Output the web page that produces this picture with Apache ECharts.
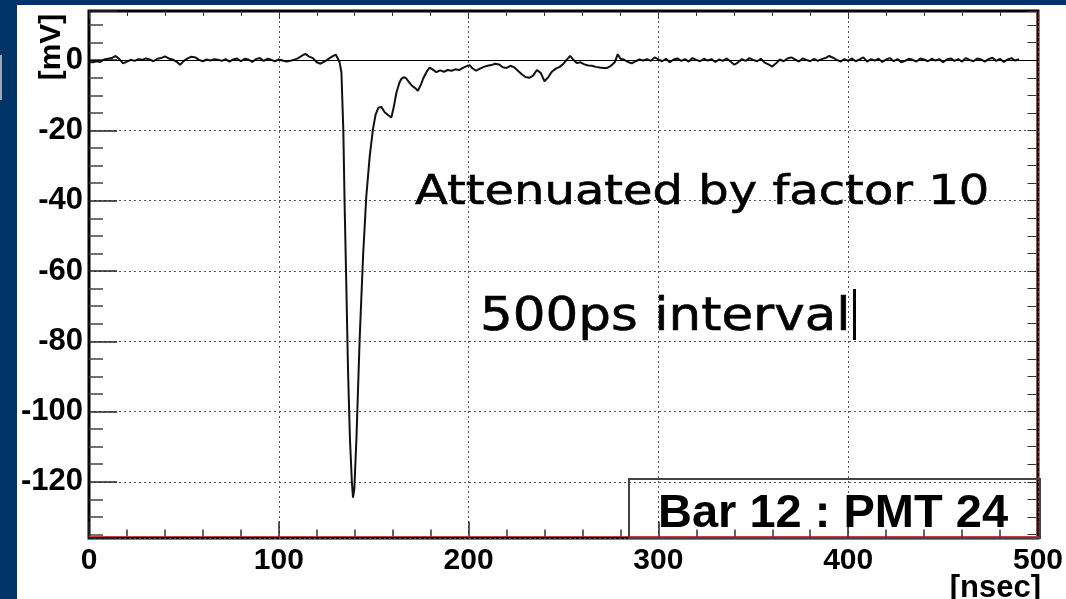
<!DOCTYPE html>
<html><head><meta charset="utf-8">
<script src="https://cdn.jsdelivr.net/npm/echarts@6/dist/echarts.min.js"></script>
<style>
html,body{margin:0;padding:0;width:1066px;height:599px;background:#003366;overflow:hidden}
#paper{position:absolute;left:17px;top:5px;width:1049px;height:594px;background:#fff}
#edge{position:absolute;left:0;top:55px;width:2px;height:45px;background:#9aa8ba}
#chart{position:absolute;left:0;top:0;width:1066px;height:599px}
</style></head><body>
<div id="paper"></div><div id="edge"></div><div id="chart"></div>
<script>
// ---- data ----
const timeNs = [
  0,2,4,6,8,10,12,14,16,18,20,22,24,26,28,30,32,34,36,38,40,42,44,46,48,50,52,54,56,58,60,
  62,64,66,68,70,72,74,76,78,80,82,84,86,88,90,92,94,96,98,100,102,104,106,108,110,112,114,116,118,120,
  122,124,126,128,130,131,132,133,134,134.7,135.5,136.5,137.5,138.5,139.1,139.8,140.9,142.6,144.4,146.1,147.9,149.6,
  151,152.5,154,155.8,157.5,159.3,160.5,162,163.5,164.6,166,167.2,168.5,170,171.5,173.3,175,176,178,179.5,
  181,183,185,187,189,191,193,195,197,199,200.5,202,204,206,208,210,212,214,216,218,220,222,224,226,228,230,
  232,234,236,238,240,242,244,246,248,250,252,253.5,255,257,259,261,263,265,267,269,271,273,275,277,278.6,280,
  282,284,286,288,290,292,294,296,298,300,302,304,306,308,310,312,314,316,318,320,322,324,326,328,330,332,334,
  336,338,340,342,344,346,348,350,352,354,356,358,360,362,364,366,368,370,372,374,376,378,380,382,384,386,388,
  390,392,394,396,398,400,402,404,406,408,410,412,414,416,418,420,422,424,426,428,430,432,434,436,438,440,442,
  444,446,448,450,452,454,456,458,460,462,464,466,468,470,472,474,476,478,480,482,484,486,488,490
];
const signalMv = [
  -0.5,-0.6,-0.3,-0.5,0.2,0.4,0.6,1.2,0.3,-0.9,-0.4,0.1,-0.2,0.3,0.1,0.5,0.2,-0.3,0.4,0.6,1.1,0.5,0.2,-0.4,-1.3,-0.2,0.5,1.0,0.8,0.1,-0.3,
  0.2,-0.1,0.3,0.1,-0.2,0.3,-0.4,0.2,0.5,-0.3,0.4,0.2,-0.5,0.3,0.6,-0.2,0.4,0.1,-0.3,0.2,-0.1,-0.4,-0.2,0.1,0.5,1.2,1.8,1.0,0.6,-0.6,
  -1.0,-0.4,0.3,1.0,1.6,1.2,-0.5,-3.5,-20,-41.6,-62,-88.8,-108,-120,-124.5,-122,-107.8,-79.4,-55.8,-38.8,-27.4,-19.7,
  -15.5,-13.5,-13.3,-14.8,-15.6,-16.3,-13.5,-9.2,-6.5,-5.3,-4.8,-5.2,-6.2,-7.2,-7.8,-8.7,-6.8,-5.3,-3.2,-2.1,
  -2.6,-3.4,-2.9,-3.3,-2.8,-3.0,-2.6,-2.8,-2.2,-1.7,-1.4,-2.3,-3.0,-2.4,-1.9,-1.6,-1.4,-1.0,-1.2,-2.0,-2.2,-1.6,-2.0,-3.0,-4.0,-4.8,
  -5.0,-4.4,-2.8,-3.6,-6.0,-4.8,-3.2,-2.4,-1.9,-1.0,0.3,1.2,0.2,-0.8,-0.6,-1.2,-1.5,-1.6,-1.9,-2.1,-2.2,-2.2,-1.6,-0.6,1.7,0.4,
  0.1,-0.5,-0.9,-0.3,0.2,-0.1,0.3,-0.2,0.8,0.2,-0.3,0.4,-0.6,0.2,0.5,-0.2,0.3,-0.4,0.6,0.1,-0.3,0.4,-0.1,0.3,-0.5,0.2,-0.2,
  0.5,-0.4,-1.3,-0.6,0.3,-0.2,0.6,0.1,-0.3,0.4,-0.7,-1.2,-1.8,-0.9,0.2,-0.3,0.5,0.8,0.2,-0.4,0.5,0.1,-0.3,0.4,-0.2,0.3,0.6,
  1.2,0.7,0.1,-0.4,0.3,-0.2,0.5,-0.3,0.2,0.8,-0.4,0.3,-0.1,0.4,-0.5,0.2,0.6,-0.3,0.3,-0.6,-0.2,0.4,0.1,-0.4,0.5,0.2,-0.3,
  0.4,-0.1,0.3,-0.6,0.2,0.5,-0.2,0.3,-0.4,0.6,0.1,-0.3,0.5,0.2,-0.4,0.3,0.7,-0.2,0.4,-0.5,0.2,0.6,-0.1,0.3
];
const xRange = [0, 500];
const yRange = [-136, 14];
const xTickLabels = [0, 100, 200, 300, 400, 500];
const yTickLabels = [0, -20, -40, -60, -80, -100, -120];
const xTitle = '[nsec]';
const yTitle = '[mV]';
const legendText = 'Bar 12 : PMT 24';
const noteLines = ['Attenuated by factor 10', '500ps interval'];

const chart = echarts.init(document.getElementById('chart'), null, {renderer: 'canvas'});
const labelFont = 'Liberation Sans';
const dotted = {color: '#555', width: 1, type: [2, 3]};
const frameRed = '#c94040';

const option = {
  animation: false,
  grid: {left: 89, right: 26, top: 11, bottom: 61, show: true, borderColor: '#000', borderWidth: 3, backgroundColor: 'transparent'},
  xAxis: [{
    type: 'value', min: xRange[0], max: xRange[1], interval: 100, position: 'bottom', offset: -1.5,
    axisLine: {show: true, onZero: false, lineStyle: {color: frameRed, width: 1}},
    axisTick: {show: true, inside: true, length: 15, lineStyle: {color: '#222', width: 1.5}},
    minorTick: {show: true, splitNumber: 5, length: 7, lineStyle: {color: '#333', width: 1.5}},
    axisLabel: {show: true, margin: 9, color: '#000', fontFamily: labelFont, fontWeight: 'bold', fontSize: 30,
      formatter: v => xTickLabels.includes(v) ? String(v) : ''},
    splitLine: {show: true, lineStyle: dotted}
  }, {
    type: 'value', min: xRange[0], max: xRange[1], interval: 100, position: 'top',
    axisLine: {show: true, onZero: false, lineStyle: {color: '#000', width: 2}},
    axisTick: {show: true, inside: true, length: 8, lineStyle: {color: '#333'}},
    minorTick: {show: true, splitNumber: 5, length: 5, lineStyle: {color: '#333'}},
    axisLabel: {show: false}, splitLine: {show: false}
  }],
  yAxis: [{
    type: 'value', min: yRange[0], max: yRange[1], splitNumber: 7, position: 'left',
    axisLine: {show: true, onZero: false, lineStyle: {color: '#000', width: 2}},
    axisTick: {show: true, inside: true, length: 28, lineStyle: {color: '#222', width: 1.5}},
    minorTick: {show: true, splitNumber: 4, length: 14, lineStyle: {color: '#444', width: 1.5}},
    axisLabel: {show: true, margin: 6, color: '#000', fontFamily: labelFont, fontWeight: 'bold', fontSize: 31,
      padding: [6, 0, 0, 0], showMinLabel: false, showMaxLabel: false,
      formatter: v => yTickLabels.includes(v) ? String(v) : ''},
    splitLine: {show: true, lineStyle: dotted}
  }, {
    type: 'value', min: yRange[0], max: yRange[1], splitNumber: 7, position: 'right', offset: -1.5,
    axisLine: {show: true, onZero: false, lineStyle: {color: frameRed, width: 1}},
    axisTick: {show: true, inside: true, length: 9, lineStyle: {color: '#333'}},
    minorTick: {show: true, splitNumber: 4, length: 9, lineStyle: {color: '#333'}},
    axisLabel: {show: false}, splitLine: {show: false}
  }],
  series: [{
    type: 'line', xAxisIndex: 0, yAxisIndex: 0,
    data: timeNs.map((t, i) => [t, signalMv[i]]),
    showSymbol: false, smooth: false,
    lineStyle: {color: '#111', width: 2},
    markLine: {silent: true, symbol: 'none', label: {show: false},
      lineStyle: {color: '#000', type: 'solid', width: 1}, data: [{yAxis: 0}]}
  }],
  graphic: [
    {type: 'rect', shape: {x: 629, y: 479, width: 411, height: 59}, style: {fill: 'none', stroke: '#444', lineWidth: 2}, z: 10},
    {type: 'text', x: 658, y: 514, style: {text: legendText, font: 'bold 47px "Liberation Sans"', fill: '#000', textAlign: 'left', textVerticalAlign: 'middle'}, z: 10},
    {type: 'text', x: 52, y: 47, rotation: Math.PI / 2, style: {text: yTitle, font: 'bold 30px "Liberation Sans"', fill: '#000', textAlign: 'center', textVerticalAlign: 'middle'}, z: 10},
    {type: 'text', x: 1041, y: 588, style: {text: xTitle, font: 'bold 31px "Liberation Sans"', fill: '#000', textAlign: 'right', textVerticalAlign: 'middle'}, z: 10},
    {type: 'text', x: 415, y: 193, scaleX: 1.17, style: {text: noteLines[0], font: '41px "DejaVu Sans"', fill: '#000', stroke: '#000', lineWidth: 0.6, textAlign: 'left', textVerticalAlign: 'middle'}, z: 10},
    {type: 'text', x: 480, y: 318, scaleX: 1.12, style: {text: noteLines[1], font: '46px "DejaVu Sans"', fill: '#000', stroke: '#000', lineWidth: 0.6, textAlign: 'left', textVerticalAlign: 'middle'}, z: 10},
    {type: 'rect', shape: {x: 853, y: 289, width: 3, height: 51}, style: {fill: '#000'}, z: 10}
  ]
};
chart.setOption(option);
</script>
</body></html>
